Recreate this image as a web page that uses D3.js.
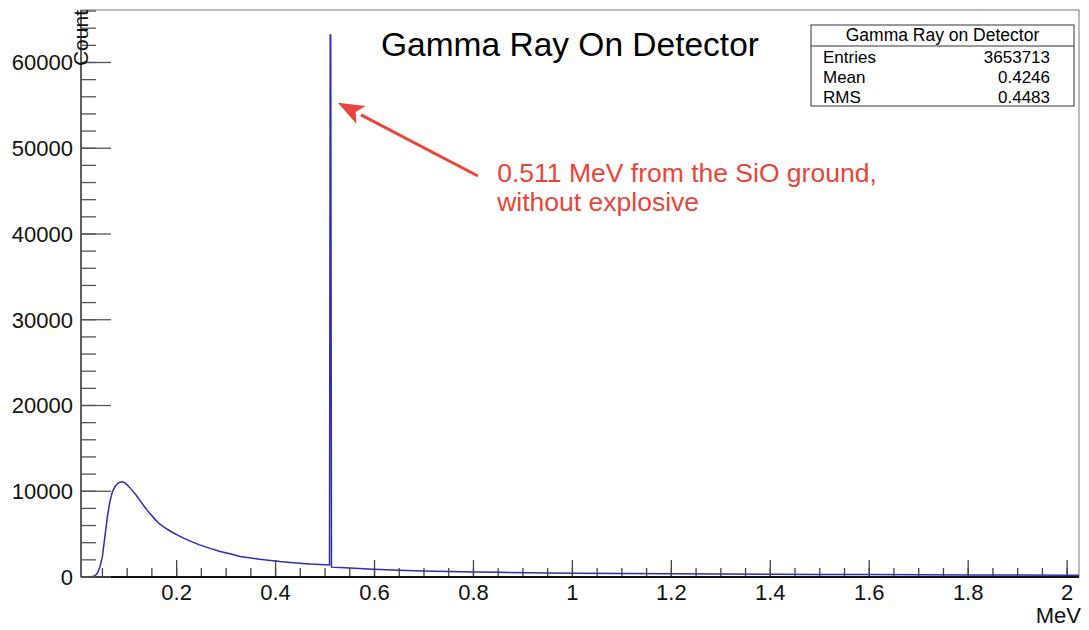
<!DOCTYPE html>
<html><head><meta charset="utf-8">
<script src="https://cdn.jsdelivr.net/npm/d3@7"></script>
<style>body{margin:0;background:#fff}svg{display:block;font-family:"Liberation Sans",Arial,Helvetica,sans-serif}</style>
</head><body>
<svg id="c" width="1089" height="630"></svg>
<script>
// Histogram samples (MeV, counts)
const energy = [0.0067,0.02,0.03,0.035,0.04,0.045,0.05,0.055,0.06,0.065,0.07,0.075,0.08,0.085,0.09,0.095,0.1,0.105,0.11,0.118,0.125,0.135,0.145,0.156,0.165,0.176,0.19,0.203,0.215,0.23,0.245,0.26,0.288,0.31,0.328,0.35,0.368,0.39,0.409,0.43,0.449,0.47,0.49,0.509,0.5105,0.5115,0.513,0.55,0.597,0.65,0.698,0.75,0.8,0.85,0.914,0.95,1.008,1.1,1.2,1.3,1.4,1.5,1.6,1.7,1.8,1.9,2.0,2.024];
const counts = [0,0,50,150,450,1200,2400,4700,7000,8800,9900,10500,10850,11050,11100,11000,10750,10450,10100,9560,9000,8200,7450,6750,6220,5750,5250,4850,4500,4120,3780,3480,2980,2680,2400,2210,2070,1930,1800,1690,1600,1510,1450,1400,63200,63200,1150,1050,900,790,700,630,580,540,500,470,440,400,370,340,320,300,280,260,240,220,200,190];
const xMajorTicks = [0.2,0.4,0.6,0.8,1,1.2,1.4,1.6,1.8,2];
const xTickLabels = ["0.2","0.4","0.6","0.8","1","1.2","1.4","1.6","1.8","2"];
const yMajorTicks = [0,10000,20000,30000,40000,50000,60000];
const yTickLabels = ["0","10000","20000","30000","40000","50000","60000"];
const statsLabels = ["Entries","Mean","RMS"];
const statsValues = ["3653713","0.4246","0.4483"];
const title = "Gamma Ray On Detector";
const statsTitle = "Gamma Ray on Detector";
const annotationLines = ["0.511 MeV from the SiO ground,","without explosive"];
const arrowTail = [0.809, 46760];
const arrowTip = [0.526, 55300];
const annotationPos = [0.848, 46100];

const L=81,R=1079,T=10,B=577;
const x = d3.scaleLinear().domain([0.0067,2.024]).range([L,R]);
const y = d3.scaleLinear().domain([0,66120]).range([B,T]);
const svg = d3.select("#c");

// frame
svg.append("rect").attr("x",L).attr("y",T).attr("width",R-L).attr("height",B-T)
  .attr("fill","none").attr("stroke","#777").attr("stroke-width",1);

// curve
const pts = energy.map((e,i)=>[e,counts[i]]);
svg.append("path").datum(pts)
  .attr("d", d3.line().x(d=>x(d[0])).y(d=>y(d[1])))
  .attr("fill","none").attr("stroke","#2d2db8").attr("stroke-width",1.5);

// x axis
const xMinor = d3.range(0.05,2.021,0.05);
const xAx = svg.append("g").attr("transform",`translate(0,${B})`);
xAx.selectAll("line.mi").data(xMinor).join("line")
  .attr("x1",d=>x(d)).attr("x2",d=>x(d)).attr("y1",0).attr("y2",-9).attr("stroke","#444").attr("stroke-width",1.3);
xAx.selectAll("line.ma").data(xMajorTicks).join("line")
  .attr("x1",d=>x(d)).attr("x2",d=>x(d)).attr("y1",0).attr("y2",-17).attr("stroke","#444").attr("stroke-width",1.3);
xAx.selectAll("text").data(xMajorTicks).join("text")
  .attr("x",d=>x(d)).attr("y",23).attr("text-anchor","middle").attr("font-size",22).attr("fill","#111")
  .text((d,i)=>xTickLabels[i]);
xAx.append("line").attr("x1",L).attr("x2",R).attr("stroke","#111").attr("stroke-width",1.8);
svg.append("text").attr("x",1081).attr("y",623).attr("text-anchor","end").attr("font-size",22).attr("fill","#111").text("MeV");

// y axis
const yMinor = d3.range(0,66001,2000);
const yAx = svg.append("g").attr("transform",`translate(${L},0)`);
yAx.selectAll("line.mi").data(yMinor).join("line")
  .attr("y1",d=>y(d)).attr("y2",d=>y(d)).attr("x1",0).attr("x2",15).attr("stroke","#555").attr("stroke-width",1.3);
yAx.selectAll("line.ma").data(yMajorTicks).join("line")
  .attr("y1",d=>y(d)).attr("y2",d=>y(d)).attr("x1",0).attr("x2",30).attr("stroke","#555").attr("stroke-width",1.3);
yAx.selectAll("text").data(yMajorTicks).join("text")
  .attr("x",-8).attr("y",d=>y(d)+8).attr("text-anchor","end").attr("font-size",22).attr("fill","#111")
  .text((d,i)=>yTickLabels[i]);
yAx.append("line").attr("y1",T).attr("y2",B).attr("stroke","#555").attr("stroke-width",1.8);
svg.append("text").attr("transform","translate(88,10) rotate(-90)").attr("text-anchor","end")
  .attr("font-size",21).attr("fill","#111").text("Count");

// title
svg.append("text").attr("x",381).attr("y",56).attr("font-size",33.5).attr("fill","#000").text(title);

// stats box
const bx=811,by=25,bw=263,bh=81;
svg.append("rect").attr("x",bx).attr("y",by).attr("width",bw).attr("height",bh).attr("fill","#fff").attr("stroke","#333").attr("stroke-width",1);
svg.append("line").attr("x1",bx).attr("x2",bx+bw).attr("y1",46).attr("y2",46).attr("stroke","#333");
svg.append("text").attr("x",bx+bw/2).attr("y",41).attr("text-anchor","middle").attr("font-size",17.5).text(statsTitle);
statsLabels.forEach((s,i)=>{
  svg.append("text").attr("x",823).attr("y",63+i*20).attr("font-size",17).text(s);
  svg.append("text").attr("x",1050).attr("y",63+i*20).attr("text-anchor","end").attr("font-size",17).text(statsValues[i]);
});

// annotation
const red="#e8443a";
const tx=x(arrowTail[0]),ty=y(arrowTail[1]),hx=x(arrowTip[0]),hy=y(arrowTip[1]);
const ang=Math.atan2(hy-ty,hx-tx), hl=26, hw=10;
const bxp=hx-hl*Math.cos(ang), byp=hy-hl*Math.sin(ang);
svg.append("line").attr("x1",tx).attr("y1",ty).attr("x2",bxp).attr("y2",byp).attr("stroke",red).attr("stroke-width",3);
svg.append("path").attr("d",`M${hx},${hy}L${bxp+hw*Math.sin(ang)},${byp-hw*Math.cos(ang)}L${bxp+6*Math.cos(ang)},${byp+6*Math.sin(ang)}L${bxp-hw*Math.sin(ang)},${byp+hw*Math.cos(ang)}Z`).attr("fill",red);
annotationLines.forEach((s,i)=>{
  svg.append("text").attr("x",x(annotationPos[0])).attr("y",y(annotationPos[1])+i*29).attr("font-size",26.5).attr("fill",red).text(s);
});
</script>
</body></html>
